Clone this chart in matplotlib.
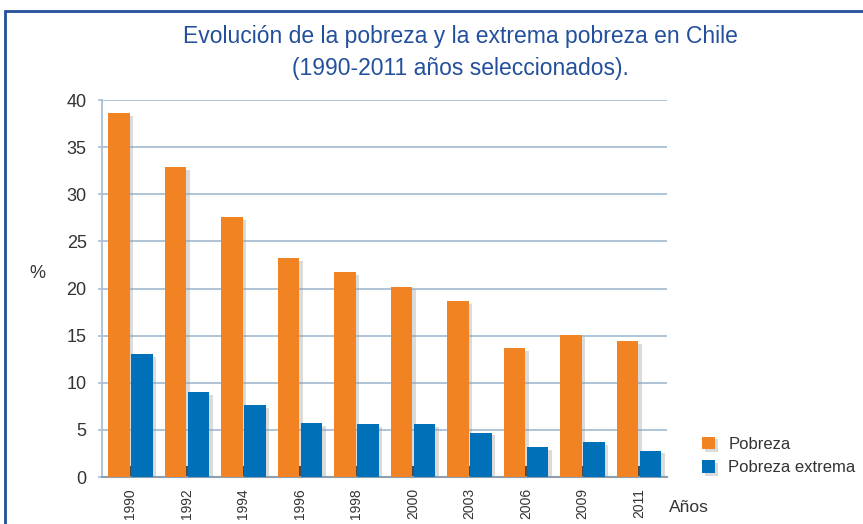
import matplotlib.pyplot as plt
import matplotlib.patheffects as pe
from matplotlib.patches import Rectangle
from matplotlib import font_manager
import numpy as np

# fonts - condensed look if available
names = {f.name for f in font_manager.fontManager.ttflist}
fam = 'Liberation Sans Narrow' if 'Liberation Sans Narrow' in names else 'Liberation Sans'
plt.rcParams['font.family'] = [fam, 'DejaVu Sans']

# data
years = ['1990', '1992', '1994', '1996', '1998', '2000', '2003', '2006', '2009', '2011']
pobreza = [38.6, 32.9, 27.6, 23.2, 21.7, 20.2, 18.7, 13.7, 15.1, 14.4]
pobreza_extrema = [13.0, 9.0, 7.6, 5.7, 5.6, 5.6, 4.7, 3.2, 3.7, 2.8]

orange = '#f28322'
blue = '#0070b8'
grid_c = '#a9bfd6'
text_c = '#333333'
title_c = '#23509c'

W, H = 863, 524
fig = plt.figure(figsize=(W / 100, H / 100), dpi=100)
fig.patch.set_facecolor('white')

# outer blue frame (runs off right and bottom)
fig.patches.append(Rectangle((5 / W, -0.2), 1.2, 1.2 - 11 / H,
                             transform=fig.transFigure, fill=False,
                             edgecolor=title_c, linewidth=2))

ax = fig.add_axes([102 / W, 1 - 477 / H, 565 / W, 377 / H])

x = np.arange(len(years))
w = 0.375
shadow = [pe.SimplePatchShadow(offset=(2.5, -2), shadow_rgbFace='#999999', alpha=0.35), pe.Normal()]
b1 = ax.bar(x - w / 2 - 0.01, pobreza, w, color=orange, zorder=3, label='Pobreza')
b2 = ax.bar(x + w / 2 + 0.02, pobreza_extrema, w, color=blue, zorder=3, label='Pobreza extrema')
for b in list(b1) + list(b2):
    b.set_path_effects(shadow)

ax.set_xlim(-0.5, len(years) - 0.5)
ax.set_ylim(0, 40)
ax.set_yticks(range(0, 41, 5))
ax.yaxis.grid(True, color=grid_c, linewidth=1.3, zorder=0)
ax.set_axisbelow(True)

for s in ['top', 'right']:
    ax.spines[s].set_visible(False)
ax.spines['left'].set_color(grid_c)
ax.spines['left'].set_linewidth(1.3)
ax.spines['bottom'].set_color('#8c9fb3')
ax.spines['bottom'].set_linewidth(1.5)

ax.set_xticks(x)
ax.set_xticklabels(years, rotation=90, fontsize=10, color=text_c)
ax.tick_params(axis='x', direction='in', length=8, width=1.5, color='#222222', pad=8)
ax.tick_params(axis='y', direction='out', length=3, width=1.2, color=grid_c,
               labelsize=13, labelcolor=text_c, pad=8)

fig.text(460 / W, 1 - 53 / H, 'Evolución de la pobreza y la extrema pobreza en Chile\n(1990-2011 años seleccionados).',
         ha='center', va='center', fontsize=16.5, color=title_c, linespacing=1.5)
fig.text(37 / W, 1 - 273 / H, '%', ha='center', va='center', fontsize=13, color=text_c)
fig.text(669 / W, 1 - 507 / H, 'Años', ha='left', va='center', fontsize=12.5, color=text_c)

leg = fig.legend(handles=[b1, b2], loc='upper left', bbox_to_anchor=(690 / W, 1 - 425 / H),
                 frameon=False, fontsize=12, handlelength=0.8, handleheight=0.8,
                 handletextpad=0.8, labelspacing=0.5, borderpad=0.2)
for t in leg.get_texts():
    t.set_color(text_c)

fig.savefig('out.png', dpi=100)
